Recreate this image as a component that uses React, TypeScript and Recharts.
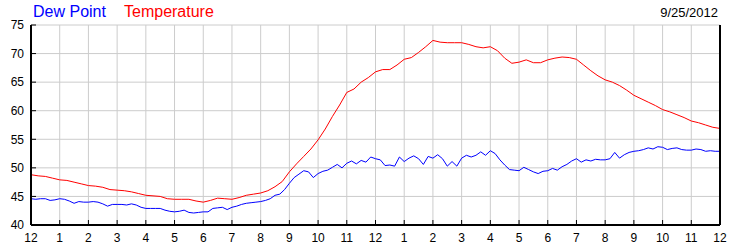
import React from "react";
import { LineChart, Line, XAxis, YAxis, CartesianGrid } from "recharts";

// temperature, every 15 minutes from 12am to 12am
const tempValues = [
  48.8, 48.6, 48.5, 48.2, 47.9, 47.8, 47.5, 47.2, 46.9, 46.8, 46.6, 46.2,
  46.1, 46.0, 45.8, 45.5, 45.2, 45.1, 45.0, 44.6, 44.5, 44.5, 44.5, 44.2,
  44.0, 44.3, 44.7, 44.6, 44.5, 44.8, 45.2, 45.4, 45.6, 46.0, 46.7, 47.6,
  49.3, 50.7, 52.0, 53.3, 54.9, 56.8, 59.0, 61.0, 63.2, 63.8, 65.0, 65.8,
  66.8, 67.2, 67.2, 68.0, 69.0, 69.3, 70.2, 71.2, 72.3, 72.0, 71.9, 71.9,
  71.9, 71.6, 71.2, 71.0, 71.2, 70.5, 69.2, 68.3, 68.5, 68.9, 68.4, 68.4,
  68.9, 69.2, 69.4, 69.3, 69.0, 68.0, 67.0, 66.1, 65.4, 65.0, 64.4, 63.6,
  62.7, 62.1, 61.5, 60.9, 60.2, 59.8, 59.3, 58.8, 58.2, 57.9, 57.5, 57.1,
  56.9,
];

// dew point, every 10 minutes
const dewValues = [
  44.6, 44.5, 44.6, 44.6, 44.3, 44.4,
  44.6, 44.5, 44.2, 43.8, 44.1, 44.0,
  44.0, 44.1, 44.0, 43.7, 43.3, 43.6,
  43.6, 43.6, 43.5, 43.7, 43.5, 43.1,
  42.9, 42.9, 42.9, 42.9, 42.6, 42.4,
  42.3, 42.4, 42.6, 42.2, 42.1, 42.2,
  42.3, 42.3, 42.9, 43.0, 43.1, 42.7,
  43.1, 43.3, 43.6, 43.8, 43.9, 44.0,
  44.1, 44.3, 44.6, 45.2, 45.4, 46.2,
  47.3, 48.3, 48.9, 49.5, 49.3, 48.3,
  49.0, 49.4, 49.6, 50.1, 50.6, 50.0,
  50.8, 51.2, 50.7, 51.3, 51.0, 51.9,
  51.6, 51.4, 50.4, 50.5, 50.3, 51.9,
  51.1, 51.7, 52.1, 51.6, 50.6, 52.0,
  51.7, 52.3, 51.6, 50.3, 51.1, 50.3,
  51.7, 52.2, 51.9, 52.2, 52.8, 52.2,
  53.0, 52.5, 51.4, 50.5, 49.7, 49.6,
  49.5, 50.1, 49.7, 49.3, 49.0, 49.4,
  49.5, 49.9, 49.6, 50.2, 50.6, 51.2,
  51.6, 51.0, 51.4, 51.2, 51.5, 51.4,
  51.4, 51.6, 52.7, 51.7, 52.3, 52.7,
  52.9, 53.0, 53.2, 53.5, 53.3, 53.7,
  53.6, 53.2, 53.4, 53.5, 53.2, 53.1,
  53.1, 53.3, 53.2, 52.9, 53.0, 52.9,
  52.9,
];

const hourTicks = [
  0, 1, 2, 3, 4, 5, 6, 7, 8, 9, 10, 11, 12, 13, 14, 15, 16, 17, 18, 19, 20,
  21, 22, 23, 24,
];
const yTicks = [40, 45, 50, 55, 60, 65, 70, 75];
const dateLabel = "9/25/2012";

const tempData = tempValues.map((v, i) => ({ h: i / 4, v }));
const dewData = dewValues.map((v, i) => ({ h: i / 6, v }));

const FONT = '"Liberation Sans", Arial, sans-serif';
const tick = { fill: "#000", fontSize: 12, fontFamily: FONT };
const axisLine = { stroke: "#000", strokeWidth: 2 };
const tickLine = { stroke: "#000", strokeWidth: 1 };

const hourLabel = (h: number) => String(h % 12 === 0 ? 12 : h % 12);

export default function App() {
  return (
    <div
      style={{
        position: "absolute",
        left: 0,
        top: 0,
        width: 750,
        height: 250,
        background: "#fff",
      }}
    >
      <LineChart
        width={750}
        height={250}
        margin={{ top: 25, right: 0, left: 0, bottom: 0 }}
      >
        <CartesianGrid stroke="#cccccc" strokeWidth={1} />
        <XAxis
          dataKey="h"
          type="number"
          domain={[0, 24]}
          ticks={hourTicks}
          interval={0}
          tickFormatter={hourLabel}
          height={25}
          tickSize={-5}
          tickMargin={13}
          axisLine={axisLine}
          tickLine={tickLine}
          tick={tick}
        />
        <XAxis
          xAxisId="top"
          orientation="top"
          dataKey="h"
          type="number"
          domain={[0, 24]}
          ticks={hourTicks}
          interval={0}
          tickFormatter={() => ""}
          height={0}
          tickSize={-5}
          axisLine={axisLine}
          tickLine={tickLine}
        />
        <YAxis
          type="number"
          domain={[40, 75]}
          ticks={yTicks}
          interval={0}
          width={31}
          tickSize={-5}
          tickMargin={12}
          axisLine={axisLine}
          tickLine={tickLine}
          tick={tick}
        />
        <YAxis
          yAxisId="right"
          orientation="right"
          type="number"
          domain={[40, 75]}
          ticks={yTicks}
          interval={0}
          width={30}
          tickSize={-5}
          tickMargin={13}
          axisLine={axisLine}
          tickLine={tickLine}
          tick={tick}
        />
        <Line
          data={tempData}
          dataKey="v"
          type="linear"
          stroke="#ff0000"
          strokeWidth={1}
          dot={false}
          isAnimationActive={false}
          name="Temperature"
        />
        <Line
          data={dewData}
          dataKey="v"
          type="linear"
          stroke="#0000ff"
          strokeWidth={1}
          dot={false}
          isAnimationActive={false}
          name="Dew Point"
        />
      </LineChart>
      <svg
        width={750}
        height={25}
        style={{ position: "absolute", left: 0, top: 0 }}
      >
        <text x={33} y={17} fontSize={16} fontFamily={FONT} fill="#0000ff">
          Dew Point
        </text>
        <text x={124} y={17} fontSize={16} fontFamily={FONT} fill="#ff0000">
          Temperature
        </text>
        <text
          x={718}
          y={17}
          fontSize={13}
          fontFamily={FONT}
          fill="#000"
          textAnchor="end"
        >
          {dateLabel}
        </text>
      </svg>
    </div>
  );
}
